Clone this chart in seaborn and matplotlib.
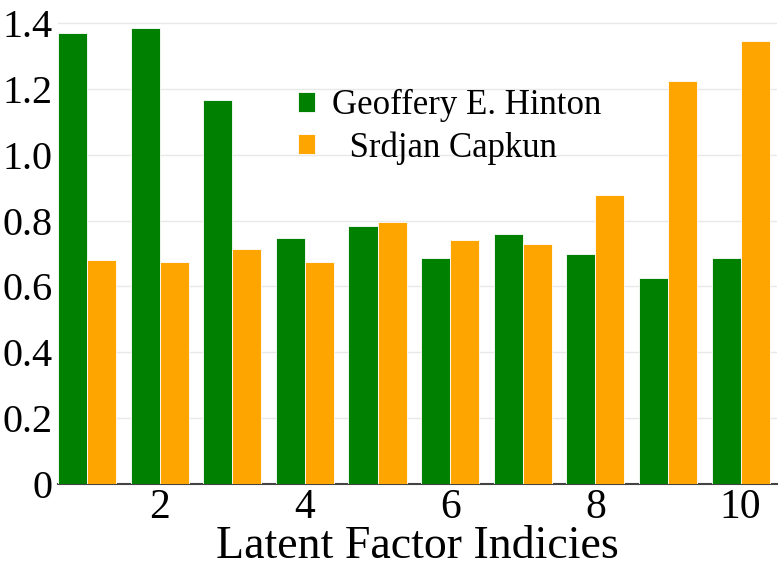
import matplotlib
matplotlib.use("Agg")
import matplotlib.pyplot as plt
import seaborn as sns
import pandas as pd

factors = [1, 2, 3, 4, 5, 6, 7, 8, 9, 10]
hinton = [1.370, 1.385, 1.166, 0.747, 0.783, 0.686, 0.759, 0.698, 0.626, 0.686]
capkun = [0.680, 0.674, 0.714, 0.674, 0.796, 0.741, 0.729, 0.878, 1.224, 1.345]
series_names = ["Geoffery E. Hinton", "Srdjan Capkun"]
xticks = [2, 4, 6, 8, 10]
yticks = [0, 0.2, 0.4, 0.6, 0.8, 1.0, 1.2, 1.4]
ytick_labels = ["0", "0.2", "0.4", "0.6", "0.8", "1.0", "1.2", "1.4"]

df = pd.DataFrame({
    "factor": factors * 2,
    "value": hinton + capkun,
    "author": [series_names[0]] * len(factors) + [series_names[1]] * len(factors),
})

sns.set_theme(style="white")
plt.rcParams["font.family"] = ["Liberation Serif", "DejaVu Serif"]
plt.rcParams["text.color"] = "black"
plt.rcParams["xtick.color"] = "black"
plt.rcParams["ytick.color"] = "black"
plt.rcParams["axes.labelcolor"] = "black"

fig = plt.figure(figsize=(7.8, 5.68), dpi=100)
ax = fig.add_axes([0.0744, 0.148, 0.9216, 0.852])

sns.barplot(data=df, x="factor", y="value", hue="author", native_scale=True,
            palette=["#008000", "#FFA500"], saturation=1, width=0.8,
            edgecolor="white", linewidth=0.6, ax=ax, legend=True,
            errorbar=None, zorder=3)

ax.set_xlim(0.6, 10.5)
ax.set_ylim(0, 1.47)
ax.set_xticks(xticks)
ax.set_xticklabels([str(t) for t in xticks], fontsize=30)
ax.set_yticks(yticks)
ax.set_yticklabels(ytick_labels, fontsize=29)
ax.tick_params(axis="x", length=0, pad=3)
ax.tick_params(axis="y", length=0, pad=4)
ax.yaxis.grid(True, color="#e8e8e8", linewidth=1, zorder=0)
ax.set_axisbelow(True)
for s in ["top", "right", "left"]:
    ax.spines[s].set_visible(False)
ax.spines["bottom"].set_color("#444444")
ax.spines["bottom"].set_linewidth(1.5)
ax.set_xlabel("Latent Factor Indicies", fontsize=33)
ax.xaxis.set_label_coords(0.5, -84 / 484, transform=ax.transAxes)
ax.xaxis.label.set_verticalalignment("bottom")
ax.set_ylabel("")

handles, labels = ax.get_legend_handles_labels()
leg = ax.legend(handles, [labels[0], "  " + labels[1]], loc="upper left",
                bbox_to_anchor=(0.29, 0.88), frameon=False, fontsize=25,
                handlelength=0.5, handleheight=0.5, handletextpad=0.5,
                labelspacing=0.25)

fig.savefig("out.png", dpi=100)
